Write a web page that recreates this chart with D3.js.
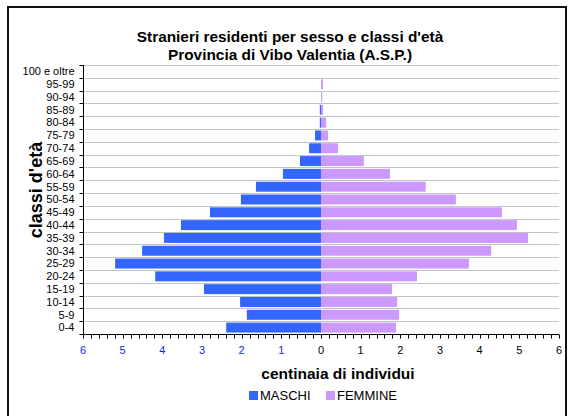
<!DOCTYPE html>
<html><head><meta charset="utf-8">
<script src="https://cdn.jsdelivr.net/npm/d3@7"></script>
<style>body{margin:0;background:#fff;}svg{display:block;font-family:Arial,"Liberation Sans",sans-serif;}</style>
</head><body><svg id="c" width="570" height="416"></svg>
<script>
const ageClasses = ["0-4","5-9","10-14","15-19","20-24","25-29","30-34","35-39","40-44","45-49","50-54","55-59","60-64","65-69","70-74","75-79","80-84","85-89","90-94","95-99","100 e oltre"];
const maschi  = [2.39,1.87,2.04,2.95,4.18,5.19,4.51,3.96,3.53,2.80,2.02,1.64,0.96,0.53,0.30,0.15,0.03,0.03,0,0,0];
const femmine = [1.89,1.97,1.92,1.79,2.42,3.73,4.29,5.22,4.94,4.56,3.40,2.64,1.74,1.08,0.43,0.18,0.13,0.05,0.03,0.05,0];
const xTicks = [-6,-5,-4,-3,-2,-1,0,1,2,3,4,5,6];
const colors = {m:"#3366FF", f:"#CC99FF"};

const svg = d3.select("#c");
const L=83, R=559, T=65, B=334;
const x = d3.scaleLinear().domain([-6,6]).range([L,R]);
const yb = d3.scaleBand().domain(ageClasses.slice().reverse()).range([T,B]).padding(0);

// border
svg.append("rect").attr("x",8).attr("y",7).attr("width",558).attr("height",420)
  .attr("fill","none").attr("stroke","#111").attr("stroke-width",2);

// gridlines at category boundaries
const bounds = d3.range(ageClasses.length).map(i=>T+i*(B-T)/ageClasses.length);
svg.append("g").selectAll("line").data(bounds).join("line")
  .attr("x1",L).attr("x2",R).attr("y1",d=>Math.round(d)+0.5).attr("y2",d=>Math.round(d)+0.5)
  .attr("stroke","#c4c4c4").attr("stroke-width",1);

// bars
const rows = ageClasses.map((a,i)=>({a,m:maschi[i],f:femmine[i]}));
const bh = yb.bandwidth()*0.78;
svg.append("g").selectAll("rect").data(rows).join("rect")
  .attr("x",d=>x(-d.m)).attr("width",d=>x(0)-x(-d.m))
  .attr("y",d=>yb(d.a)+(yb.bandwidth()-bh)/2).attr("height",bh).attr("fill",colors.m);
svg.append("g").selectAll("rect").data(rows).join("rect")
  .attr("x",x(0)).attr("width",d=>x(d.f)-x(0))
  .attr("y",d=>yb(d.a)+(yb.bandwidth()-bh)/2).attr("height",bh).attr("fill",colors.f);

// y axis
const ya = svg.append("g").attr("transform",`translate(${L+0.5},0)`);
ya.append("line").attr("y1",T).attr("y2",B).attr("stroke","#000");
ya.selectAll("line.t").data(bounds.concat([B])).join("line").attr("class","t")
  .attr("x1",-4).attr("x2",0).attr("y1",d=>Math.round(d)+0.5).attr("y2",d=>Math.round(d)+0.5).attr("stroke","#000");
ya.selectAll("text").data(ageClasses).join("text")
  .attr("x",-9).attr("y",d=>yb(d)+yb.bandwidth()/2).attr("dy","0.35em")
  .attr("text-anchor","end").attr("font-size",11).attr("fill","#000").text(d=>d);

// x axis
const xa = svg.append("g").attr("transform",`translate(0,${B+0.5})`);
xa.append("line").attr("x1",L).attr("x2",R).attr("stroke","#000");
const minor = d3.range(-30,31).map(v=>v/5);
xa.selectAll("line.m").data(minor).join("line").attr("class","m")
  .attr("x1",d=>Math.round(x(d))+0.5).attr("x2",d=>Math.round(x(d))+0.5).attr("y1",0).attr("y2",4).attr("stroke","#000");
xa.selectAll("text").data(xTicks).join("text")
  .attr("x",d=>x(d)).attr("y",19).attr("text-anchor","middle").attr("font-size",11)
  .attr("fill",d=>d<0?"#2222EE":"#000").text(d=>Math.abs(d));

// titles
svg.append("text").attr("x",290).attr("y",42).attr("text-anchor","middle").attr("font-size",15.4).attr("font-weight","bold")
  .text("Stranieri residenti per sesso e classi d'età");
svg.append("text").attr("x",290).attr("y",60).attr("text-anchor","middle").attr("font-size",15.4).attr("font-weight","bold")
  .text("Provincia di Vibo Valentia (A.S.P.)");
svg.append("text").attr("transform","translate(42,190) rotate(-90)").attr("text-anchor","middle")
  .attr("font-size",18).attr("font-weight","bold").text("classi d'età");
svg.append("text").attr("x",338).attr("y",379).attr("text-anchor","middle").attr("font-size",15.5).attr("font-weight","bold")
  .text("centinaia di individui");

// legend
const leg = [{k:"MASCHI",c:colors.m,x:249},{k:"FEMMINE",c:colors.f,x:326}];
const lg = svg.append("g").selectAll("g").data(leg).join("g").attr("transform",d=>`translate(${d.x},391)`);
lg.append("rect").attr("width",9).attr("height",9).attr("fill",d=>d.c);
lg.append("text").attr("x",11).attr("y",9).attr("font-size",13).attr("fill","#000").text(d=>d.k);
</script></body></html>
